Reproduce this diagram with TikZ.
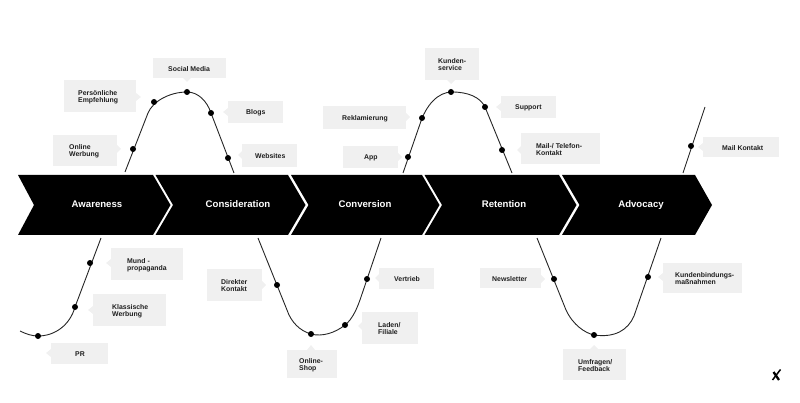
\documentclass[tikz,border=0pt]{standalone}
\usepackage{fontspec}
\setmainfont{Liberation Sans}
\tikzset{
  x=1pt,y=-1pt,
  chev/.style={fill=black,draw=none},
  chevtext/.style={text=white,font=\fontsize{9.6}{10}\selectfont\bfseries,inner sep=0pt,text height=7pt,text depth=0pt},
  boxed/.style={fill=boxgray,draw=none,inner sep=0pt},
  boxtext/.style={text=black!88,font=\fontsize{6.9}{7}\selectfont\bfseries,inner sep=0pt,align=left,anchor=west,yshift=-0.8pt},
  ptrfill/.style={fill=boxgray,draw=none},
  curve/.style={draw=black!85,line width=0.9pt},
  dotmark/.style={circle,fill=black,inner sep=0pt,minimum size=6pt}
}
\definecolor{boxgray}{HTML}{F0F0F0}
% id, x1, y1, x2, y2, text x, text
\newcommand{\lbl}[7]{%
  \pgfmathsetmacro{\myw}{#4-#2}\pgfmathsetmacro{\myh}{#5-#3}%
  \pgfmathsetmacro{\mycx}{(#2+#4)/2}\pgfmathsetmacro{\mycy}{(#3+#5)/2}%
  \node[boxed,minimum width=\myw pt,minimum height=\myh pt] (#1) at (\mycx,\mycy) {};
  \node[boxtext] (#1t) at (#6,\mycy) {#7};
}
\newcommand{\ptrh}[3]{\fill[ptrfill] (#1,#3-4) -- (#2,#3) -- (#1,#3+4) -- cycle;}
\newcommand{\ptrv}[3]{\fill[ptrfill] (#3-4,#1) -- (#3,#2) -- (#3+4,#1) -- cycle;}
\begin{document}
\begin{tikzpicture}
\useasboundingbox (0,0) rectangle (800,403);
% chevrons
\fill[chev] (18,175) -- (153,175) -- (170.5,205) -- (153,235) -- (18,235) -- (34,205) -- cycle;
\fill[chev] (155.5,175) -- (288,175) -- (305.5,205) -- (288,235) -- (155.5,235) -- (173,205) -- cycle;
\fill[chev] (291,175) -- (422,175) -- (439.5,205) -- (422,235) -- (291,235) -- (308.5,205) -- cycle;
\fill[chev] (424.5,175) -- (559,175) -- (576.5,205) -- (559,235) -- (424.5,235) -- (442,205) -- cycle;
\fill[chev] (562,175) -- (695,175) -- (712,205) -- (695,235) -- (562,235) -- (579.5,205) -- cycle;
\node[chevtext] (s1) at (97,204) {Awareness};
\node[chevtext] (s2) at (238,204) {Consideration};
\node[chevtext] (s3) at (365,204) {Conversion};
\node[chevtext] (s4) at (504,204) {Retention};
\node[chevtext] (s5) at (641,204) {Advocacy};
% curves
\draw[curve] (20,331) .. controls (26,334) and (32,336) .. (38,336) .. controls (55,336) and (70,325) .. (75,307) -- (101,238);
\draw[curve] (125,172) -- (148,113) .. controls (153,101) and (170,92) .. (187,92) .. controls (198,92) and (207,101) .. (211,113) -- (234,173);
\draw[curve] (258,238) -- (287,310) .. controls (291,322) and (300,331) .. (311,334) .. controls (322,337) and (335,333) .. (345,325) .. controls (353,319) and (358,306) .. (361,297) -- (381,238);
\draw[curve] (403,173) -- (420,124) .. controls (426,105) and (438,92) .. (452,92) .. controls (468,92) and (480,97) .. (485,107) -- (512,173);
\draw[curve] (537,238) -- (566,310) .. controls (573,325) and (585,333) .. (594,335) .. controls (615,338) and (628,330) .. (634,316) -- (661,238);
\draw[curve] (683,173) -- (705,107);
% dots
\foreach \n/\x/\y in {a/38/336,b/75/307,c/90/263,d/133/149,e/154/102,f/187/92,g/211/113,h/228/158,i/277/285,j/311/334,k/345/325,l/367/279,m/408/157,n/422/118,o/451/92,p/485/107,q/502/150,r/554/279,s/594/335,t/648/277,u/691/146}
  \node[dotmark] (dot\n) at (\x,\y) {};
% pointers
\ptrv{78}{82}{187}
\ptrh{136}{141}{97}
\ptrh{117}{121}{149}
\ptrh{228}{223}{112}
\ptrh{242}{238}{155}
\ptrh{111}{106}{263}
\ptrh{93}{88}{310}
\ptrh{51}{46}{353}
\ptrh{262}{266}{285}
\ptrv{350}{345}{311}
\ptrh{362}{358}{326}
\ptrh{379}{375}{278}
\ptrh{541}{545}{279}
\ptrh{663}{658}{277}
\ptrv{349}{345}{594}
\ptrh{406}{410}{117}
\ptrh{398}{402}{157}
\ptrv{80}{84}{451}
\ptrh{501}{496}{107}
\ptrh{521}{517}{150}
\ptrh{703}{698}{147}
% labels
\lbl{social}{153}{58}{226}{78}{168}{Social Media}
\lbl{pers}{64}{80}{136}{112}{78}{Persönliche\\Empfehlung}
\lbl{online}{53}{135}{117}{166}{69}{Online\\Werbung}
\lbl{blogs}{228}{101}{283}{123}{246}{Blogs}
\lbl{web}{242}{144}{297}{167}{255}{Websites}
\lbl{mund}{111}{248}{183}{280}{127}{Mund -\\propaganda}
\lbl{klass}{93}{294}{166}{326}{112}{Klassische\\Werbung}
\lbl{pr}{51}{343}{108}{364}{75}{PR}
\lbl{dir}{207}{269}{262}{301}{221}{Direkter\\Kontakt}
\lbl{shop}{287}{350}{337}{378}{299}{Online-\\Shop}
\lbl{laden}{362}{312}{418}{344}{378}{Laden/\\Filiale}
\lbl{vert}{379}{268}{434}{289}{394}{Vertrieb}
\lbl{news}{480}{268}{541}{288}{492}{Newsletter}
\lbl{kbm}{663}{263}{742}{293}{675}{Kundenbindungs-\\maßnahmen}
\lbl{umf}{563}{349}{626}{380}{578}{Umfragen/\\Feedback}
\lbl{rekl}{323}{106}{406}{129}{342}{Reklamierung}
\lbl{app}{343}{146}{398}{168}{364}{App}
\lbl{kund}{425}{48}{479}{80}{438}{Kunden-\\service}
\lbl{supp}{501}{96}{556}{118}{515}{Support}
\lbl{mail}{521}{133}{600}{164}{536}{Mail-/ Telefon-\\Kontakt}
\lbl{mailk}{703}{137}{779}{157}{722}{Mail Kontakt}
% logo
\draw[black,line width=2.3pt] (773.5,372) -- (779,380);
\draw[black,line width=1.5pt] (772.5,380) -- (780.5,369.5);
\end{tikzpicture}
\end{document}
